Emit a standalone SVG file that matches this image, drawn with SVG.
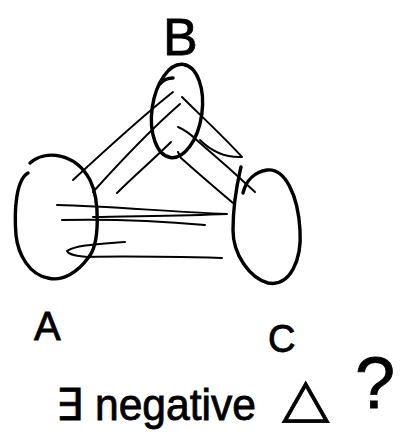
<svg xmlns="http://www.w3.org/2000/svg" width="404" height="443" viewBox="0 0 404 443">
<style>
.s{fill:none;stroke:#000;stroke-width:3.4;stroke-linecap:round;stroke-linejoin:round}
.e{fill:none;stroke:#000;stroke-width:2;stroke-linecap:round;stroke-linejoin:round}
.t{font-family:"Liberation Sans",Arial,sans-serif;fill:#000;stroke:#000;stroke-width:0.8}
</style>
<rect width="404" height="443" fill="#fff"/>
<g id="nodeA">
<path class="s" d="M30,163 C45,150 75,152 90,180 C100,200 100,245 88,258 C78,272 62,282 48,278 C30,275 18,255 16,235 C14,210 16,180 28,173"/>
<text class="t" x="34" y="340" font-size="40">A</text>
</g>
<g id="nodeB">
<ellipse class="s" cx="177" cy="111" rx="25" ry="47" transform="rotate(8 177 111)"/>
<path class="s" d="M160,84 C164,79 169,78 173,78"/>
<text class="t" x="163" y="55" font-size="52">B</text>
</g>
<g id="nodeC">
<path class="s" d="M241,167 C238,180 233,200 233,230 C233,255 250,278 268,283 C290,287 302,260 300,230 C298,195 285,168 267,170 C255,172 246,180 243,193"/>
<text class="t" x="268" y="352" font-size="38">C</text>
</g>
<g id="connectors">
<path class="e" d="M73,180 C100,155 140,118 173,92"/>
<path class="e" d="M93,192 C120,162 150,130 180,104"/>
<path class="e" d="M117,193 C135,175 155,158 171,142"/>
<path class="e" d="M182,97 C200,115 225,138 242,157 Q218,158 200,140"/>
<path class="e" d="M178,127 C190,132 196,140 200,143 C220,160 240,178 255,192"/>
<path class="e" d="M178,152 L181,158 C200,175 220,192 233,203"/>
<path class="e" d="M57,205 C110,206 170,212 227,214 C180,216 130,216 93,217"/>
<path class="e" d="M62,220 C110,219 160,221 205,225"/>
<path class="e" d="M125,242 C100,244 75,245 67,251 C70,256 80,256 87,257 C130,256 180,257 222,258"/>
</g>
<g id="caption">
<text class="t" x="56" y="420" font-size="44" textLength="200" lengthAdjust="spacingAndGlyphs">∃ negative</text>
<text class="t" x="282" y="416" font-size="54" textLength="48" lengthAdjust="spacingAndGlyphs">△</text>
<text class="t" x="355" y="408" font-size="72">?</text>
</g>
</svg>
